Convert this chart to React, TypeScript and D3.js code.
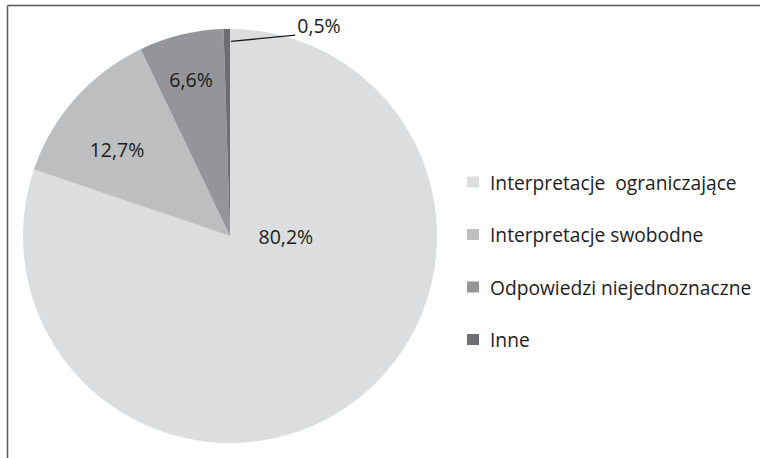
import React from "react";
import * as d3 from "d3";

const categories = [
  "Interpretacje  ograniczające",
  "Interpretacje swobodne",
  "Odpowiedzi niejednoznaczne",
  "Inne",
];
const values = [80.2, 12.7, 6.6, 0.5];
const labels = ["80,2%", "12,7%", "6,6%", "0,5%"];

// styling
const colors = ["#dcddde", "#bcbec0", "#939598", "#6d6e71"];
// label placement in polar coords relative to pie centre (degrees clockwise from top, fraction of radius)
const labelPlace = [
  { a: 90, r: 0.27 },
  { a: 307.3, r: 0.686 },
  { a: 346, r: 0.778 },
  { a: 18, r: 1.02 },
];

const W = 760;
const H = 458;
const cx = 230;
const cy = 236;
const R = 207;
const FONT = "'Open Sans', 'DejaVu Sans', sans-serif";

function polar(aDeg: number, r: number) {
  const a = (aDeg * Math.PI) / 180;
  return [cx + Math.sin(a) * r, cy - Math.cos(a) * r];
}

export default function App() {
  const pie = d3.pie<number>().sort(null).value((d) => d);
  const arcs = pie(values);
  const arc = d3.arc<d3.PieArcDatum<number>>().innerRadius(0).outerRadius(R);

  const legendX = 467;
  const legendY0 = 182;
  const legendStep = 52.5;

  const leaderStart = polar(0.3, R * 0.94);
  const leaderEnd = polar(labelPlace[3].a, R * labelPlace[3].r);

  return (
    <svg
      width={W}
      height={H}
      style={{ position: "absolute", left: 0, top: 0, background: "#fff" }}
      fontFamily={FONT}
    >
      <rect x={0} y={0} width={W} height={H} fill="#fff" />
      <line x1={7.5} y1={5.5} x2={W} y2={5.5} stroke="#5a5a5a" strokeWidth={1.5} />
      <line x1={7.5} y1={5.5} x2={7.5} y2={H} stroke="#5a5a5a" strokeWidth={1.5} />

      <g transform={`translate(${cx},${cy})`}>
        {arcs.map((d, i) => (
          <path key={i} d={arc(d) || ""} fill={colors[i]} />
        ))}
      </g>

      {labels.slice(0, 3).map((t, i) => {
        const [x, y] = polar(labelPlace[i].a, R * labelPlace[i].r);
        return (
          <text
            key={i}
            x={x}
            y={y}
            textAnchor="middle"
            dominantBaseline="central"
            fontSize={19.5}
            fill="#1e1b1c"
          >
            {t}
          </text>
        );
      })}

      <line
        x1={leaderStart[0]}
        y1={leaderStart[1]}
        x2={leaderEnd[0]}
        y2={leaderEnd[1]}
        stroke="#1e1b1c"
        strokeWidth={1.3}
      />
      <text
        x={leaderEnd[0] + 2}
        y={leaderEnd[1] - 10}
        dominantBaseline="central"
        fontSize={19.5}
        fill="#1e1b1c"
      >
        {labels[3]}
      </text>

      {categories.map((c, i) => {
        const y = legendY0 + i * legendStep;
        return (
          <g key={i}>
            <rect x={legendX} y={y - 5.5} width={12} height={11} fill={colors[i]} />
            <text
              x={legendX + 23}
              y={y}
              dominantBaseline="central"
              fontSize={19.2}
              fill="#1e1b1c"
              style={{ whiteSpace: "pre" }}
            >
              {c}
            </text>
          </g>
        );
      })}
    </svg>
  );
}
